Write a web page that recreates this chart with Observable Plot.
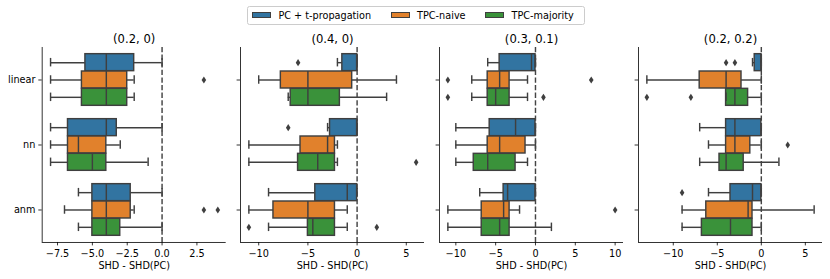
<!DOCTYPE html>
<html><head><meta charset="utf-8">
<script src="https://cdn.jsdelivr.net/npm/d3@7"></script>
<script src="https://cdn.jsdelivr.net/npm/@observablehq/plot@0.6"></script>
<style>
html,body{margin:0;padding:0;background:#fff;}
#fig{position:relative;width:830px;height:279px;overflow:hidden;font-family:"DejaVu Sans",sans-serif;}
#fig svg{position:absolute;top:0;}
.legend{position:absolute;left:246.5px;top:5.5px;width:338.5px;height:19px;box-sizing:border-box;border:1px solid #cccccc;border-radius:2.5px;background:rgba(255,255,255,0.8);font-size:9.7px;color:#000;display:flex;align-items:center;padding-left:4.3px;white-space:nowrap;font-family:"DejaVu Sans",sans-serif;}
.legend .sw{display:inline-block;width:19.4px;height:6.8px;box-sizing:border-box;border:1.2px solid #3f3f3f;margin-right:7.2px;}
.legend .it{display:flex;align-items:center;margin-right:19.4px;}
</style></head><body><div id="fig"></div>
<script>
// ---- data ----
const panelTitles = ["(0.2, 0)", "(0.4, 0)", "(0.3, 0.1)", "(0.2, 0.2)"];
const categories = ["linear", "nn", "anm"];
const methods = ["PC + t-propagation", "TPC-naive", "TPC-majority"];
const colors = ["#3274a1", "#e1812c", "#3a923a"];
const xTickValues = [[-7.5, -5, -2.5, 0, 2.5], [-10, -5, 0, 5], [-10, -5, 0, 5, 10], [-10, -5, 0, 5]];
const xLabel = "SHD - SHD(PC)";

// [category, method, whiskerLow, q1, median, q3, whiskerHigh]
const boxes_02_0 = [
  ["linear", "PC + t-propagation", -8, -5.5, -4, -2, 0],
  ["linear", "TPC-naive", -8, -5.75, -4, -2.5, -2],
  ["linear", "TPC-majority", -8, -5.75, -4, -2.5, -2],
  ["nn", "PC + t-propagation", -8, -6.75, -4, -3.25, 0],
  ["nn", "TPC-naive", -8, -6.75, -6, -4, -3],
  ["nn", "TPC-majority", -8, -6.75, -5, -4, -1],
  ["anm", "PC + t-propagation", -6, -5, -4, -2.25, 0],
  ["anm", "TPC-naive", -7, -5, -4, -2.25, -2],
  ["anm", "TPC-majority", -6, -5, -4, -3, 0]
];
const outliers_02_0 = [["linear", "TPC-naive", 3], ["anm", "TPC-naive", 3], ["anm", "TPC-naive", 4]];

const boxes_04_0 = [
  ["linear", "PC + t-propagation", -2, -1.5, 0, 0, 0],
  ["linear", "TPC-naive", -10, -7.75, -5, -0.5, 4],
  ["linear", "TPC-majority", -7, -6.75, -5, -1.75, 3],
  ["nn", "PC + t-propagation", -3, -2.75, 0, 0, 0],
  ["nn", "TPC-naive", -11, -5.75, -3, -2.25, -2],
  ["nn", "TPC-majority", -11, -6, -4, -2.25, -2],
  ["anm", "PC + t-propagation", -9, -4.25, -1, 0, 0],
  ["anm", "TPC-naive", -11, -8.5, -5, -2.25, -1],
  ["anm", "TPC-majority", -9, -5, -4.5, -2.25, -1]
];
const outliers_04_0 = [["linear", "PC + t-propagation", -6], ["nn", "PC + t-propagation", -7], ["nn", "TPC-majority", 6], ["anm", "TPC-majority", -11], ["anm", "TPC-majority", 2]];

const boxes_03_01 = [
  ["linear", "PC + t-propagation", -6, -4.5, -0.5, 0, 0],
  ["linear", "TPC-naive", -8, -6, -4.5, -3.25, -1],
  ["linear", "TPC-majority", -8, -6, -5, -3.25, -1],
  ["nn", "PC + t-propagation", -10, -5.75, -2.5, 0, 0],
  ["nn", "TPC-naive", -10, -6, -4.5, -1.25, 0],
  ["nn", "TPC-majority", -10, -7.75, -6, -2.5, -1],
  ["anm", "PC + t-propagation", -7, -4, -3.5, 0, 0],
  ["anm", "TPC-naive", -11, -6.75, -4, -3.25, -2],
  ["anm", "TPC-majority", -11, -6.75, -4.5, -3.25, 2]
];
const outliers_03_01 = [["linear", "TPC-naive", -11], ["linear", "TPC-naive", 7], ["linear", "TPC-majority", -11], ["linear", "TPC-majority", 1], ["anm", "TPC-naive", 10]];

const boxes_02_02 = [
  ["linear", "PC + t-propagation", -1, -0.75, 0, 0, 0],
  ["linear", "TPC-naive", -13, -7, -4, -2.25, 0],
  ["linear", "TPC-majority", -4, -4, -3, -1.5, 0],
  ["nn", "PC + t-propagation", -7, -4, -3, 0, 0],
  ["nn", "TPC-naive", -6, -4, -3, -1.25, 0],
  ["nn", "TPC-majority", -7, -4.75, -4, -2, 2],
  ["anm", "PC + t-propagation", -6, -3.5, -1, 0, 0],
  ["anm", "TPC-naive", -9, -6.25, -1.5, -1, 6],
  ["anm", "TPC-majority", -9, -6.75, -3.5, -1, 0]
];
const outliers_02_02 = [["linear", "PC + t-propagation", -4], ["linear", "PC + t-propagation", -3], ["linear", "TPC-majority", -13], ["linear", "TPC-majority", -8], ["nn", "TPC-naive", 3], ["anm", "PC + t-propagation", -9]];

const panelBoxes = [boxes_02_0, boxes_04_0, boxes_03_01, boxes_02_02];
const panelOutliers = [outliers_02_0, outliers_04_0, outliers_03_01, outliers_02_02];

// ---- drawing ----
const fig = document.getElementById("fig");
const edge = "#3f3f3f";
const lw = 1.44;
const dodge = 0.8 / 3;
const bh = dodge * 0.98 / 2;
const ch = bh / 2;
const pos = (c, m) => categories.indexOf(c) + (methods.indexOf(m) - 1) * dodge;
const thinDiamond = {
  draw(ctx) { ctx.moveTo(0, -3.6); ctx.lineTo(2.3, 0); ctx.lineTo(0, 3.6); ctx.lineTo(-2.3, 0); ctx.closePath(); }
};

// legend
const leg = document.createElement("div");
leg.className = "legend";
methods.forEach((m, i) => {
  const it = document.createElement("span"); it.className = "it";
  const sw = document.createElement("span"); sw.className = "sw"; sw.style.background = colors[i];
  const tx = document.createElement("span"); tx.textContent = m;
  it.appendChild(sw); it.appendChild(tx); leg.appendChild(it);
});

panelTitles.forEach((title, i) => {
  const L = 41.7 + i * 198.6, W = 184;
  const ml = i === 0 ? L : 14, mr = 10;
  const boxes = panelBoxes[i], outs = panelOutliers[i];
  const vals = boxes.flatMap(b => [b[2], b[6]]).concat(outs.map(o => o[2]));
  const lo = d3.min(vals), hi = d3.max(vals), pad = (hi - lo) * 0.05;
  const rows = boxes.map(b => ({cat: b[0], method: b[1], wlo: b[2], q1: b[3], med: b[4], q3: b[5], whi: b[6], pos: pos(b[0], b[1])}));
  const orows = outs.map(o => ({v: o[2], pos: pos(o[0], o[1])}));
  const svg = Plot.plot({
    width: ml + W + mr, height: 279,
    marginLeft: ml, marginRight: mr, marginTop: 47, marginBottom: 37,
    style: {background: "transparent", overflow: "visible", fontFamily: "DejaVu Sans", fontSize: "9.7px", color: "#000"},
    x: {domain: [lo - pad, hi + pad]},
    y: {domain: [-0.5, 2.5], reverse: true},
    color: {domain: methods, range: colors},
    marks: [
      Plot.rect(rows, {x1: "q1", x2: "q3", y1: d => d.pos - bh, y2: d => d.pos + bh, fill: "method", stroke: edge, strokeWidth: lw}),
      Plot.ruleY(rows, {y: "pos", x1: "wlo", x2: "q1", stroke: edge, strokeWidth: lw}),
      Plot.ruleY(rows, {y: "pos", x1: "q3", x2: "whi", stroke: edge, strokeWidth: lw}),
      Plot.ruleX(rows, {x: "wlo", y1: d => d.pos - ch, y2: d => d.pos + ch, stroke: edge, strokeWidth: lw}),
      Plot.ruleX(rows, {x: "whi", y1: d => d.pos - ch, y2: d => d.pos + ch, stroke: edge, strokeWidth: lw}),
      Plot.ruleX(rows, {x: "med", y1: d => d.pos - bh, y2: d => d.pos + bh, stroke: edge, strokeWidth: lw}),
      Plot.dot(orows, {x: "v", y: "pos", symbol: thinDiamond, fill: edge, stroke: "none"}),
      Plot.ruleX([0], {stroke: "#444", strokeWidth: lw, strokeDasharray: "5.3,2.3"}),
      Plot.ruleX([lo - pad], {stroke: "#000", strokeWidth: 0.8}),
      Plot.ruleY([2.5], {stroke: "#000", strokeWidth: 0.8}),
      Plot.axisX({ticks: xTickValues[i], tickFormat: i === 0 ? d3.format(".1f") : d3.format("d"), tickSize: 3.4, tickPadding: 4.5, strokeWidth: 0.8, label: null, fontSize: 9.7}),
      Plot.axisY({ticks: [0, 1, 2], tickFormat: i === 0 ? (d => categories[d]) : (() => ""), tickSize: 3.4, tickPadding: 3.4, strokeWidth: 0.8, label: null, fontSize: 9.7}),
      Plot.text([title], {text: d => d, frameAnchor: "top", dy: -8.5, fontSize: 11.6, lineAnchor: "middle"}),
      Plot.text([xLabel], {text: d => d, frameAnchor: "bottom", dy: 23.4, fontSize: 9.7, lineAnchor: "middle"})
    ]
  });
  svg.style.left = (L - ml) + "px";
  fig.appendChild(svg);
});
fig.appendChild(leg);
</script></body></html>
